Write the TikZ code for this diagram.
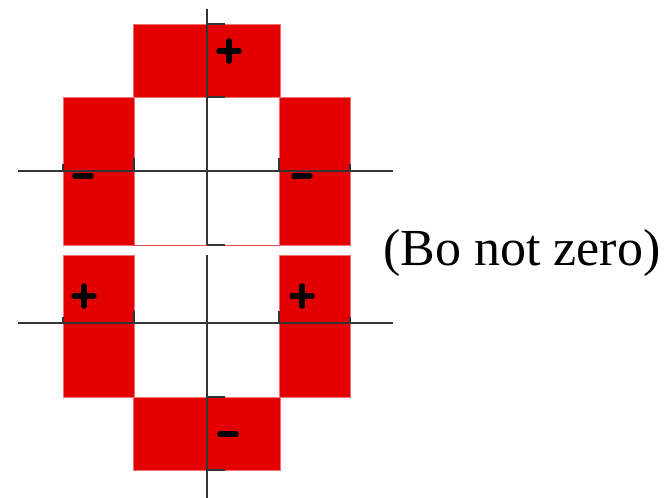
\documentclass[tikz,border=0pt]{standalone}
\usepackage{fontspec}
\setmainfont{Liberation Serif}
\usetikzlibrary{positioning,calc}
\definecolor{cellred}{RGB}{226,0,0}
\newcommand\plusmark[1]{\draw[sgn] ($(#1)+(-10,0)$) -- ($(#1)+(10,0)$) ($(#1)+(0,-10)$) -- ($(#1)+(0,10)$);}
\newcommand\minusmark[1]{\draw[sgn] ($(#1)+(-8,0)$) -- ($(#1)+(8,0)$);}

\begin{document}
\begin{tikzpicture}[x=1pt,y=-1pt,
  cell/.style={fill=cellred,draw=cellred!55,line width=0.6pt},
  axis/.style={draw=black!80,line width=1.3pt},
  sgn/.style={line width=5.5pt,line cap=round}]
\useasboundingbox (0,0) rectangle (667,498);
% upper pattern
\path[cell] (133,24) rectangle (280,97);
\path[cell] (63,97) rectangle (134,245);
\path[cell] (279,97) rectangle (350,245);
\draw[cellred!70,line width=1pt] (133,245) -- (279,245);
\draw[axis] (207,9) -- (207,245);
\draw[axis] (18,171) -- (393,171);
\draw[axis] (207,24) -- (225,24) (207,97) -- (225,97) (207,245) -- (225,245);
\draw[axis] (63,164) -- (63,171) (134,158) -- (134,171) (279,158) -- (279,171) (350,164) -- (350,171);
\coordinate (p1) at (229,51);
\coordinate (m1) at (83,176);
\coordinate (m2) at (302,176);
\plusmark{p1}
\minusmark{m1}
\minusmark{m2}
% lower pattern
\path[cell] (63,255) rectangle (134,397);
\path[cell] (279,255) rectangle (350,397);
\path[cell] (133,397) rectangle (280,470);
\draw[axis] (207,255) -- (207,498);
\draw[axis] (18,323) -- (393,323);
\draw[axis] (207,397) -- (225,397) (207,470) -- (225,470);
\draw[axis] (63,317) -- (63,323) (134,311) -- (134,323) (279,311) -- (279,323) (350,317) -- (350,323);
\coordinate (p2) at (84,296);
\coordinate (p3) at (302,296);
\coordinate (m3) at (228,434);
\plusmark{p2}
\plusmark{p3}
\minusmark{m3}
\node[font=\fontsize{52}{60}\selectfont,anchor=base west,inner sep=0pt] (note) at (383,265) {(Bo not zero)};
\end{tikzpicture}
\end{document}
